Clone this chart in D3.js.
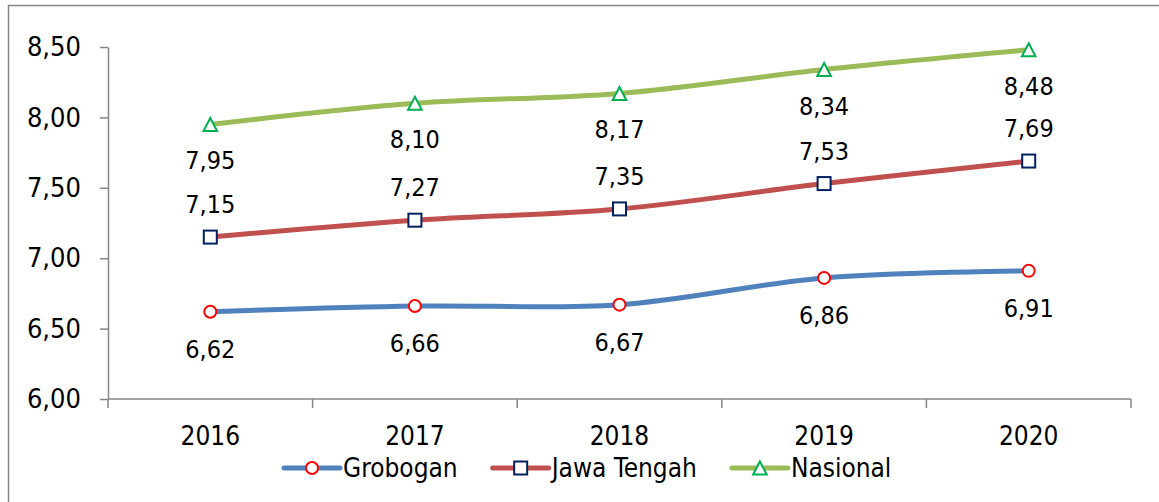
<!DOCTYPE html>
<html>
<head>
<meta charset="utf-8">
<script src="https://cdn.jsdelivr.net/npm/d3@7"></script>
<style>
  body { margin: 0; background: #fff; }
  svg text { font-family: "DejaVu Sans Condensed", "DejaVu Sans", sans-serif; font-stretch: condensed; fill: #000; }
</style>
</head>
<body>
<script>
// data
const years = ["2016", "2017", "2018", "2019", "2020"];
const grobogan = [6.62, 6.66, 6.67, 6.86, 6.91];
const jawaTengah = [7.15, 7.27, 7.35, 7.53, 7.69];
const nasional = [7.95, 8.10, 8.17, 8.34, 8.48];
const yTicks = [6.0, 6.5, 7.0, 7.5, 8.0, 8.5];

const width = 1159, height = 502;
const margin = {top: 47, right: 28, bottom: 103, left: 108};

const series = [
    {name: "Grobogan", values: grobogan, line: "#4F81BD", marker: "circle", mstroke: "#FF0000", labelDy: 46},
    {name: "Jawa Tengah", values: jawaTengah, line: "#C0504D", marker: "square", mstroke: "#002060", labelDy: -24},
    {name: "Nasional", values: nasional, line: "#9BBB59", marker: "triangle", mstroke: "#00B050", labelDy: 45}
];

const svg = d3.select("body").append("svg")
    .attr("width", width)
    .attr("height", height);

// outer frame
svg.append("rect")
    .attr("x", 8.5).attr("y", 5.5)
    .attr("width", width).attr("height", height)
    .attr("fill", "none")
    .attr("stroke", "#868686")
    .attr("stroke-width", 1.5);

const x = d3.scaleBand()
    .domain(years)
    .range([margin.left, width - margin.right]);

const y = d3.scaleLinear()
    .domain([6, 8.5])
    .range([height - margin.bottom, margin.top]);

const fmt = d => d3.format(".2f")(d).replace(".", ",");
const cx = d => x(d) + x.bandwidth() / 2;

// y axis
const yAxis = svg.append("g")
    .attr("transform", `translate(${margin.left},0)`)
    .call(d3.axisLeft(y).tickValues(yTicks).tickFormat(fmt).tickSize(8).tickPadding(19).tickSizeOuter(0));
yAxis.select(".domain").attr("stroke", "#868686").attr("stroke-width", 1.5);
yAxis.selectAll(".tick line").attr("stroke", "#868686").attr("stroke-width", 1.5);
yAxis.selectAll(".tick text").style("font-size", "27px");

// x axis, ticks on the band edges
const x0 = y(6);
const xAxis = svg.append("g");
xAxis.append("line")
    .attr("x1", x.range()[0]).attr("x2", x.range()[1])
    .attr("y1", x0).attr("y2", x0)
    .attr("stroke", "#868686").attr("stroke-width", 1.5);
const edges = years.map(d => x(d)).concat([x(years[years.length - 1]) + x.bandwidth()]);
xAxis.selectAll("line.edge")
    .data(edges)
    .enter().append("line")
    .attr("class", "edge")
    .attr("x1", d => d).attr("x2", d => d)
    .attr("y1", x0).attr("y2", x0 + 9)
    .attr("stroke", "#868686").attr("stroke-width", 1.5);
xAxis.selectAll("text")
    .data(years)
    .enter().append("text")
    .attr("x", cx)
    .attr("y", x0 + 46)
    .attr("text-anchor", "middle")
    .style("font-size", "26px")
    .text(d => d);

// marker drawing helper
function drawMarker(g, type, stroke) {
    if (type === "circle") {
        g.append("circle").attr("r", 6);
    } else if (type === "square") {
        g.append("rect").attr("x", -6.5).attr("y", -6.5).attr("width", 13).attr("height", 13);
    } else {
        g.append("path").attr("d", "M0,-6.5L6.8,6.5L-6.8,6.5Z");
    }
    g.selectAll("*").attr("fill", "#fff").attr("stroke", stroke).attr("stroke-width", 2);
}

const line = d3.line()
    .x((d, i) => cx(years[i]))
    .y(d => y(d))
    .curve(d3.curveCatmullRom.alpha(0.5));

series.forEach(s => {
    svg.append("path")
        .attr("d", line(s.values))
        .attr("fill", "none")
        .attr("stroke", s.line)
        .attr("stroke-width", 5)
        .attr("stroke-linecap", "round");
});

series.forEach(s => {
    s.values.forEach((v, i) => {
        const g = svg.append("g")
            .attr("transform", `translate(${cx(years[i])},${y(v)})`);
        drawMarker(g, s.marker, s.mstroke);
        svg.append("text")
            .attr("x", cx(years[i]))
            .attr("y", y(v) + s.labelDy)
            .attr("text-anchor", "middle")
            .style("font-size", "25px")
            .text(fmt(v));
    });
});

// legend
let lx = 284;
const ly = 468;
series.forEach(s => {
    const g = svg.append("g");
    g.append("line")
        .attr("x1", lx).attr("x2", lx + 56)
        .attr("y1", ly).attr("y2", ly)
        .attr("stroke", s.line).attr("stroke-width", 5)
        .attr("stroke-linecap", "round");
    const m = g.append("g").attr("transform", `translate(${lx + 28},${ly})`);
    drawMarker(m, s.marker, s.mstroke);
    const t = g.append("text")
        .attr("x", lx + 59)
        .attr("y", ly + 9)
        .style("font-size", "26px")
        .text(s.name);
    lx += 59 + t.node().getComputedTextLength() + 35;
});
</script>
</body>
</html>
